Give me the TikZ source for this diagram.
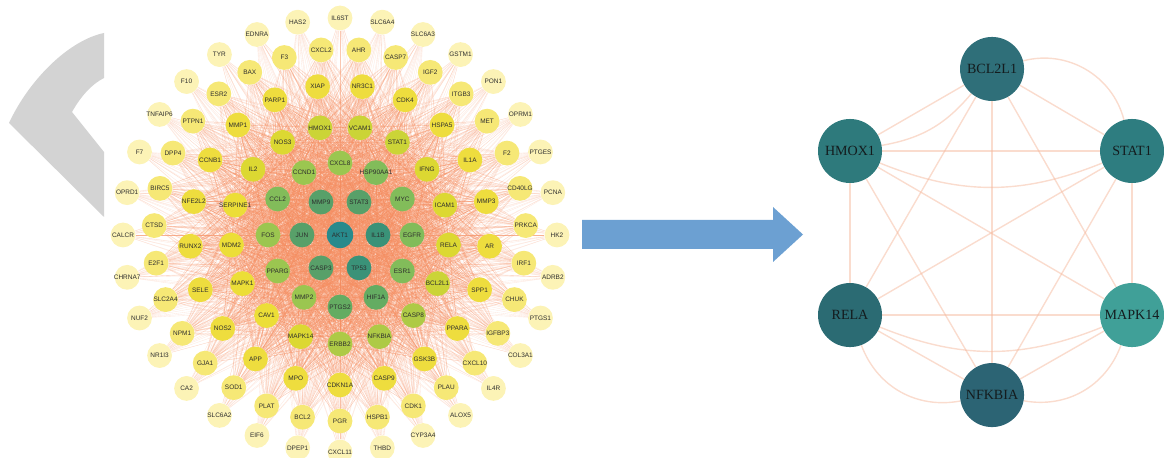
\documentclass[tikz,border=0pt]{standalone}
\usepackage{fontspec}
\newfontfamily\genefont{Liberation Sans}
\newfontfamily\hubfont{Liberation Serif}
\usetikzlibrary{positioning}
\pgfdeclarelayer{edges}
\pgfsetlayers{edges,main}
\definecolor{gA}{RGB}{252,243,182}
\definecolor{gB}{RGB}{246,232,118}
\definecolor{gC}{RGB}{238,221,62}
\definecolor{gD0}{RGB}{236,222,55}
\definecolor{gD1}{RGB}{220,216,50}
\definecolor{gD2}{RGB}{203,212,55}
\definecolor{gD3}{RGB}{174,202,70}
\definecolor{gE1}{RGB}{155,198,80}
\definecolor{gE2}{RGB}{130,188,90}
\definecolor{gE3}{RGB}{100,172,98}
\definecolor{gF1}{RGB}{88,160,105}
\definecolor{gF2}{RGB}{58,146,120}
\definecolor{gF0}{RGB}{40,138,140}
\definecolor{genetext}{RGB}{45,45,45}
\definecolor{linkcol}{RGB}{244,140,95}
\definecolor{hublinkcol}{RGB}{245,185,158}
\definecolor{hubA}{RGB}{47,111,121}
\definecolor{hubB}{RGB}{46,122,124}
\definecolor{hubC}{RGB}{46,125,128}
\definecolor{hubD}{RGB}{43,107,115}
\definecolor{hubE}{RGB}{64,160,152}
\definecolor{hubF}{RGB}{44,100,116}
\definecolor{hubtext}{RGB}{20,28,30}
\definecolor{chevron}{RGB}{211,211,211}
\definecolor{arrowblue}{RGB}{108,160,210}
\def\ringA{IL6ST,SLC6A4,SLC6A3,GSTM1,PON1,OPRM1,PTGES,PCNA,HK2,ADRB2,PTGS1,COL3A1,IL4R,ALOX5,CYP3A4,THBD,CXCL11,DPEP1,EIF6,SLC6A2,CA2,NR1I3,NUF2,CHRNA7,CALCR,OPRD1,F7,TNFAIP6,F10,TYR,EDNRA,HAS2}
\def\ringB{CXCL2,AHR,CASP7,IGF2,ITGB3,MET,F2,CD40LG,PRKCA,IRF1,CHUK,IGFBP3,CXCL10,PLAU,CDK1,HSPB1,PGR,BCL2,PLAT,SOD1,GJA1,NPM1,SLC2A4,E2F1,CTSD,BIRC5,DPP4,PTPN1,ESR2,BAX,F3}
\def\ringC{XIAP,NR3C1,CDK4,HSPA5,IL1A,MMP3,AR,SPP1,PPARA,GSK3B,CASP9,CDKN1A,MPO,APP,NOS2,SELE,RUNX2,NFE2L2,CCNB1,MMP1,PARP1}
\def\ringD{HMOX1/gD2,VCAM1/gD2,STAT1/gD2,IFNG/gD1,ICAM1/gD1,RELA/gD1,BCL2L1/gD2,CASP8/gD3,NFKBIA/gD3,ERBB2/gD3,MAPK14/gD1,CAV1/gD0,MAPK1/gD0,MDM2/gD0,SERPINE1/gD0,IL2/gD1,NOS3/gD1}
\def\ringE{CXCL8/gE1,HSP90AA1/gE2,MYC/gE2,EGFR/gE2,ESR1/gE2,HIF1A/gE3,PTGS2/gE3,MMP2/gE1,PPARG/gE1,FOS/gE1,CCL2/gE2,CCND1/gE1}
\def\ringF{STAT3/gF1,IL1B/gF2,TP53/gF2,CASP3/gF1,JUN/gF1,MMP9/gF1}
\def\hubs{AKT1,STAT3,IL1B,TP53,CASP3,JUN,MMP9,CXCL8,HSP90AA1,MYC,EGFR,ESR1,HIF1A,PTGS2,MMP2,PPARG,FOS,CCL2,CCND1}
\def\keys{key_BCL2L1,key_STAT1,key_MAPK14,key_NFKBIA,key_RELA,key_HMOX1}
\newcommand{\glabel}[1]{\makebox[0pt]{#1}}

\begin{document}
\begin{tikzpicture}[
                x=0.025cm, y=0.025cm,
                gene/.style={circle, inner sep=0pt, minimum size=0.62cm,
                    text=genetext, font=\genefont\fontsize{4.6}{5}\selectfont},
                keygene/.style={circle, inner sep=0pt, minimum size=1.6cm,
                    text=hubtext, font=\hubfont\fontsize{10}{12}\selectfont},
                link/.style={draw=linkcol, line width=0.3pt, opacity=0.42},
                keylink/.style={draw=hublinkcol, line width=1pt, opacity=0.5},
                node distance=3cm,
                on grid]
            \useasboundingbox (0,0) rectangle (1164,458);
            \coordinate (C) at (340,223);
            \fill[chevron] (104,425) .. controls (70,418) and (30,380) .. (9,335)
                -- (104,241) -- (104,306) -- (72,346)
                .. controls (81,362) and (92,374) .. (104,380) -- cycle;
            \fill[arrowblue] (582,238) -- (773,238) -- (773,251) -- (803,223.5)
                -- (773,196) -- (773,209) -- (582,209) -- cycle;
            \node[gene, fill=gF0, minimum size=0.66cm] (AKT1) at (C) {\glabel{AKT1}};
            \foreach \n/\c [count=\i] in \ringF
                {\node[gene, fill=\c] (\n) at ([shift={({120-60*\i}:38)}]C) {\glabel{\n}};}
            \foreach \n/\c [count=\i] in \ringE
                {\node[gene, fill=\c] (\n) at ([shift={({120-30*\i}:72)}]C) {\glabel{\n}};}
            \foreach \n/\c [count=\i] in \ringD
                {\node[gene, fill=\c] (\n) at ([shift={({121.76-21.176*\i}:109)}]C) {\glabel{\n}};}
            \foreach \n [count=\i] in \ringC
                {\node[gene, fill=gC] (\n) at ([shift={({115.71-17.143*\i}:150)}]C) {\glabel{\n}};}
            \foreach \n [count=\i] in \ringB
                {\node[gene, fill=gB] (\n) at ([shift={({107.42-11.613*\i}:186)}]C) {\glabel{\n}};}
            \foreach \n [count=\i] in \ringA
                {\node[gene, fill=gA] (\n) at ([shift={({101.25-11.25*\i}:217)}]C) {\glabel{\n}};}
            \node[keygene, fill=hubB] (key_HMOX1) at (850,307) {HMOX1};
            \node[keygene, fill=hubA] (key_BCL2L1) [above right=2.05cm and 3.55cm of key_HMOX1] {BCL2L1};
            \node[keygene, fill=hubC] (key_STAT1) [right=7.05cm of key_HMOX1] {STAT1};
            \node[keygene, fill=hubD] (key_RELA) [below=4.1cm of key_HMOX1] {RELA};
            \node[keygene, fill=hubE] (key_MAPK14) [below=4.1cm of key_STAT1] {MAPK14};
            \node[keygene, fill=hubF] (key_NFKBIA) [below right=2cm and 3.55cm of key_RELA] {NFKBIA};
            \begin{pgfonlayer}{edges}
            \foreach \a in \ringA {
                \foreach \b in \hubs {\draw[link, opacity=0.2, line width=0.25pt] (\a) -- (\b);}
            }
            \foreach \a in \ringB {
                \foreach \b in \hubs {\draw[link, opacity=0.25] (\a) -- (\b);}
                \foreach \b/\c in \ringD {\draw[link, opacity=0.25] (\a) -- (\b);}
            }
            \foreach \a in \ringC {
                \foreach \b in \hubs {\draw[link] (\a) -- (\b);}
                \foreach \b/\c in \ringD {\draw[link] (\a) -- (\b);}
            }
            \foreach \a/\c [count=\i] in \ringD {
                \foreach \b in \hubs {\draw[link] (\a) -- (\b);}
                \foreach \b/\d [count=\j] in \ringD {\ifnum\j>\i \draw[link] (\a) -- (\b); \fi}
            }
            \foreach \a [count=\i] in \hubs {
                \foreach \b [count=\j] in \hubs {\ifnum\j>\i \draw[link, line width=0.6pt] (\a) -- (\b); \fi}
            }
            \foreach \a [count=\i] in \keys {
                \foreach \b [count=\j] in \keys {\ifnum\j>\i \draw[keylink] (\a) -- (\b); \fi}
            }
            \path[keylink]
            (key_BCL2L1) edge[bend left=45] (key_STAT1)
            (key_HMOX1) edge[bend right=20] (key_BCL2L1)
                edge[bend right=22] (key_STAT1)
            (key_RELA) edge[bend right=22] (key_MAPK14)
                edge[bend right=40] (key_NFKBIA)
            (key_MAPK14) edge[bend left=40] (key_NFKBIA)
            ;
            \end{pgfonlayer}
        \end{tikzpicture}
\end{document}
